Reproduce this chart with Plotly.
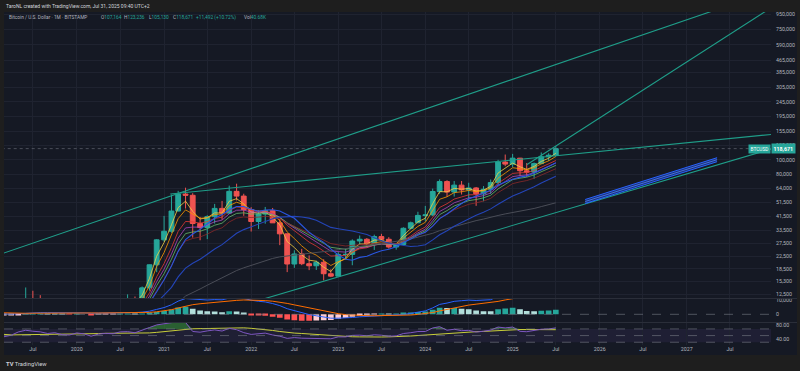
import numpy as np
import pandas as pd
import plotly.graph_objects as go
from plotly.subplots import make_subplots

# ---------------- data ----------------
# monthly closes before the visible window (used for the indicators only)
hist_months = pd.date_range('2015-01-01', '2018-12-01', freq='MS')
hist_close = [217, 254, 244, 236, 230, 263, 284, 230, 236, 314, 377, 430,
              369, 437, 416, 448, 531, 673, 624, 575, 609, 698, 742, 964,
              970, 1190, 1080, 1348, 2300, 2480, 2875, 4703, 4339, 6468, 10233, 13860,
              10265, 10326, 6926, 9246, 7494, 6391, 7729, 7037, 6625, 6371, 4041, 3742]

months = pd.date_range('2019-01-01', '2025-07-01', freq='MS')
opens = [3693, 3437, 3823, 4103, 5320, 8556, 10817, 10085, 9600, 8300, 9150, 7545,
         7195, 9350, 8545, 6410, 8630, 9455, 9140, 11350, 11660, 10780, 13800, 19710,
         28990, 33100, 45240, 58800, 57700, 37300, 35040, 41460, 47130, 43820, 61300, 57000,
         46200, 38480, 43180, 45530, 37700, 31800, 19950, 23300, 20050, 19420, 20490, 17170,
         16540, 23130, 23150, 28470, 29250, 27220, 30470, 29230, 25940, 26970, 34650, 37720,
         42280, 42580, 61170, 71330, 60670, 67500, 62700, 64630, 58990, 63330, 70220, 96420,
         93400, 102400, 84340, 82550, 94200, 104600, 107164]
highs = [4069, 4200, 4140, 5630, 9096, 13880, 13200, 12330, 10950, 10370, 9510, 7750,
         9580, 10500, 9190, 9460, 10080, 10390, 11440, 12480, 12070, 14100, 19500, 29300,
         41950, 58350, 61790, 64900, 59600, 41300, 42400, 50500, 52900, 67000, 69000, 59100,
         47990, 45800, 48200, 47440, 40000, 31980, 24670, 25200, 22800, 21000, 21470, 18390,
         23960, 25250, 29200, 31000, 29820, 31400, 31800, 30200, 27480, 35200, 38420, 44730,
         48970, 63990, 73790, 72800, 71980, 71960, 70000, 65600, 66500, 73620, 99800, 108300,
         109400, 102800, 95000, 95750, 111900, 110500, 123236]
lows = [3350, 3372, 3680, 4078, 5328, 7450, 9070, 9330, 7710, 7300, 6525, 6430,
        6860, 8450, 3850, 6150, 8110, 8900, 8980, 10530, 9880, 10370, 13210, 17580,
        28130, 32300, 45000, 47000, 30000, 28800, 29300, 37300, 39600, 43300, 53250, 42000,
        32950, 34300, 37200, 37600, 26700, 17600, 18800, 19600, 18150, 18200, 15480, 16300,
        16500, 21400, 19570, 26940, 25800, 24800, 28860, 25300, 24900, 26560, 34100, 37600,
        38500, 41880, 59000, 56500, 56550, 58400, 53500, 49000, 52600, 58900, 66800, 90500,
        89200, 78200, 76600, 74400, 93300, 98200, 105130]
closes = [3437, 3823, 4103, 5320, 8556, 10817, 10085, 9600, 8300, 9150, 7545, 7195,
          9350, 8545, 6410, 8630, 9455, 9140, 11350, 11660, 10780, 13800, 19710, 28990,
          33100, 45240, 58800, 57700, 37300, 35040, 41460, 47130, 43820, 61300, 57000, 46200,
          38480, 43180, 45530, 37700, 31800, 19950, 23300, 20050, 19420, 20490, 17170, 16540,
          23130, 23150, 28470, 29250, 27220, 30470, 29230, 25940, 26970, 34650, 37720, 42280,
          42580, 61170, 71330, 60670, 67500, 62700, 64630, 58990, 63330, 70220, 96420, 93400,
          102400, 84340, 82550, 94200, 104600, 107179, 118671]
last_volume_text = '40.68K'

# drawn trend lines (anchor date, anchor price)
upper_line_dates = ['2019-01-01', '2027-06-01']
upper_line_prices = [21930, 1051000]
steep_line_dates = ['2025-03-01', '2027-12-15']
steep_line_prices = [92600, 1033000]
resist_line_dates = ['2021-01-27', '2028-01-01']
resist_line_prices = [58900, 148300]
support_line_dates = ['2022-01-01', '2028-01-01']
support_line_prices = [10980, 119300]
channel_dates = ['2025-11-01', '2027-05-08']
channel_top = [54060, 103140]
channel_mid = [52420, 100000]
channel_bot = [50820, 96960]

# axis ticks
x_tickvals = ['2019-07-01', '2020-01-01', '2020-07-01', '2021-01-01', '2021-07-01', '2022-01-01',
              '2022-07-01', '2023-01-01', '2023-07-01', '2024-01-01', '2024-07-01', '2025-01-01',
              '2025-07-01', '2026-01-01', '2026-07-01', '2027-01-01', '2027-07-01']
x_ticktext = ['Jul', '2020', 'Jul', '2021', 'Jul', '2022', 'Jul', '2023', 'Jul', '2024', 'Jul',
              '2025', 'Jul', '2026', 'Jul', '2027', 'Jul']
price_ticks = [950000, 750000, 590000, 465000, 385000, 305000, 245000, 195000, 155000, 125000,
               100000, 80000, 64000, 51500, 41500, 33500, 27500, 22500, 18500, 15300, 12500]
macd_ticks = [0, 10000]
rsi_ticks = [40, 80]

# ---------------- indicators ----------------
all_idx = hist_months.append(months)
s = pd.Series(hist_close + closes, index=all_idx, dtype=float)

def ema(n):
    return s.ewm(span=n, adjust=False).mean()

macd = ema(12) - ema(26)
signal = macd.ewm(span=9, adjust=False).mean()
hist = macd - signal
delta = s.diff()
gain = delta.clip(lower=0).fillna(0)
loss = (-delta.clip(upper=0)).fillna(0)
rsi = 100 - 100 / (1 + gain.ewm(alpha=1 / 14, adjust=False).mean() / loss.ewm(alpha=1 / 14, adjust=False).mean())
rsi_ma = rsi.rolling(14).mean()

vis = s.index >= '2018-06-01'

# ---------------- layout geometry ----------------
W, H = 800, 371
L, R, T, B = 4, 29, 12, 26
pw, ph = W - L - R, H - T - B

def px(xp):
    return (xp - L) / pw

def py(yp):
    return (H - B - yp) / ph

price_dom = [py(298.5), 1.0]
macd_dom = [py(322.5), py(298.5)]
rsi_dom = [0.0, py(322.5)]

BG = '#151924'
GRID = '#1f2330'
TXT = '#b2b5be'
GREEN = '#26a69a'
RED = '#ef5350'
TEAL_LINE = '#1f9e89'
FONT = 'Roboto'
FS = 5.3
LFS = 4.8

fig = make_subplots(rows=3, cols=1, shared_xaxes=True, vertical_spacing=0)

# ribbon of moving averages
ribbon = [(3, '#f5d142'), (5, '#ff9800'), (8, '#e53935'), (10, '#ab47bc'), (12, '#66bb6a'), (15, '#8d2a2a')]
for n, c in ribbon:
    e = ema(n)
    fig.add_trace(go.Scatter(x=e.index[vis], y=e[vis], mode='lines', line=dict(color=c, width=0.8),
                             hoverinfo='skip'), row=1, col=1)
sma46 = s.rolling(46).mean()
sma20 = s.rolling(20).mean()
sma10 = s.rolling(10).mean()
fig.add_trace(go.Scatter(x=sma46.index[vis], y=sma46[vis], mode='lines', line=dict(color='#4a4d57', width=1)), row=1, col=1)
fig.add_trace(go.Scatter(x=sma20.index[vis], y=sma20[vis], mode='lines', line=dict(color='#2445b8', width=1.1)), row=1, col=1)
fig.add_trace(go.Scatter(x=sma10.index[vis], y=sma10[vis], mode='lines', line=dict(color='#2a56e0', width=1.1)), row=1, col=1)

# candles
fig.add_trace(go.Candlestick(x=months, open=opens, high=highs, low=lows, close=closes,
                             increasing=dict(line=dict(color=GREEN, width=1), fillcolor=GREEN),
                             decreasing=dict(line=dict(color=RED, width=1), fillcolor=RED),
                             whiskerwidth=0, hoverinfo='skip'), row=1, col=1)

# last price line
fig.add_trace(go.Scatter(x=['2019-01-01', '2028-06-01'], y=[closes[-1], closes[-1]], mode='lines',
                         line=dict(color='rgba(120,123,134,0.55)', width=1, dash='dot')), row=1, col=1)

# trend lines
for d, p in [(upper_line_dates, upper_line_prices), (steep_line_dates, steep_line_prices),
             (resist_line_dates, resist_line_prices), (support_line_dates, support_line_prices)]:
    fig.add_trace(go.Scatter(x=d, y=p, mode='lines', line=dict(color=TEAL_LINE, width=1.1)), row=1, col=1)

# blue channel
fig.add_trace(go.Scatter(x=channel_dates, y=channel_top, mode='lines', line=dict(color='#2962ff', width=1)), row=1, col=1)
fig.add_trace(go.Scatter(x=channel_dates, y=channel_bot, mode='lines', line=dict(color='#2962ff', width=1),
                         fill='tonexty', fillcolor='rgba(41,98,255,0.35)'), row=1, col=1)
fig.add_trace(go.Scatter(x=channel_dates, y=channel_mid, mode='lines', line=dict(color='#4f7dff', width=0.8)), row=1, col=1)

# MACD
hv = hist.values
hcols = []
for i in range(len(hv)):
    prev = hv[i - 1] if i > 0 else hv[i]
    if hv[i] >= 0:
        hcols.append('#26a69a' if hv[i] > prev else '#b2dfdb')
    else:
        hcols.append('#ffcdd2' if hv[i] > prev else '#ff5252')
fig.add_trace(go.Bar(x=list(hist.index[vis]), y=list(hist[vis].values),
                     marker=dict(color=[c for c, v in zip(hcols, vis) if v], line=dict(width=0))), row=2, col=1)
fig.add_trace(go.Scatter(x=macd.index[vis], y=macd[vis], mode='lines', line=dict(color='#2962ff', width=1)), row=2, col=1)
fig.add_trace(go.Scatter(x=signal.index[vis], y=signal[vis], mode='lines', line=dict(color='#ff6d00', width=1)), row=2, col=1)

# RSI
rx = rsi.index[vis]
fig.add_trace(go.Scatter(x=rx, y=np.full(len(rx), 70.0), mode='lines', line=dict(width=0)), row=3, col=1)
fig.add_trace(go.Scatter(x=rx, y=np.maximum(rsi[vis].values, 70.0), mode='lines', line=dict(width=0),
                         fill='tonexty', fillcolor='rgba(56,142,60,0.6)'), row=3, col=1)
fig.add_trace(go.Scatter(x=rx, y=rsi_ma[vis], mode='lines', line=dict(color='#c9cf3a', width=1)), row=3, col=1)
fig.add_trace(go.Scatter(x=rx, y=rsi[vis], mode='lines', line=dict(color='#7e57c2', width=1)), row=3, col=1)

# ---------------- axes ----------------
xr = ['2019-03-02', '2027-12-20']
for i in (1, 2, 3):
    fig.update_xaxes(row=i, col=1, type='date', range=xr, showgrid=True, gridcolor=GRID, gridwidth=1,
                     tickvals=x_tickvals, ticktext=x_ticktext, zeroline=False, showline=False,
                     rangeslider=dict(visible=False), ticks='',
                     showticklabels=(i == 3), tickfont=dict(family=FONT, size=FS, color=TXT))

fig.update_yaxes(row=1, col=1, type='log', range=[4.06846, 5.99128], side='right', tickvals=price_ticks,
                 tickformat=',', showgrid=True, gridcolor=GRID, zeroline=False, ticks='',
                 ticklabelstandoff=4, tickfont=dict(family=FONT, size=FS, color=TXT), domain=price_dom)
fig.update_yaxes(row=2, col=1, range=[-5600, 10800], side='right', tickvals=macd_ticks, tickformat=',',
                 showgrid=False, zeroline=False, ticks='', ticklabelstandoff=4,
                 tickfont=dict(family=FONT, size=FS, color=TXT), domain=macd_dom)
fig.update_yaxes(row=3, col=1, range=[21.7, 89.4], side='right', tickvals=rsi_ticks, tickformat='.2f',
                 showgrid=False, zeroline=False, ticks='', ticklabelstandoff=4,
                 tickfont=dict(family=FONT, size=FS, color=TXT), domain=rsi_dom)

shapes = [
    dict(type='rect', xref='paper', yref='paper', x0=px(4), x1=px(797), y0=py(355), y1=py(12),
         fillcolor=BG, line=dict(width=0), layer='below'),
    dict(type='line', xref='paper', yref='paper', x0=px(4), x1=px(797), y0=py(298.5), y1=py(298.5),
         line=dict(color='#2a2e39', width=1)),
    dict(type='line', xref='paper', yref='paper', x0=px(4), x1=px(797), y0=py(322.5), y1=py(322.5),
         line=dict(color='#2a2e39', width=1)),
    dict(type='rect', xref='x3 domain', yref='y3', x0=0, x1=1, y0=30, y1=70,
         fillcolor='rgba(126,87,194,0.1)', line=dict(width=0), layer='below'),
]
for v in (70, 50, 30):
    shapes.append(dict(type='line', xref='x3 domain', yref='y3', x0=0, x1=1, y0=v, y1=v,
                       line=dict(color='rgba(120,123,134,0.6)', width=1, dash='dash')))
shapes.append(dict(type='line', xref='x2 domain', yref='y2', x0=0, x1=1, y0=0, y1=0,
                   line=dict(color='rgba(120,123,134,0.6)', width=1, dash='dash')))

chg = closes[-1] - closes[-2]
pct = chg / closes[-2] * 100

def kv(k, v):
    return "<span style='color:#b2b5be'>{}</span><span style='color:#26a69a'>{}</span>".format(k, v)

legend_items = [
    (7, "<span style='color:#b2b5be'>Bitcoin / U.S. Dollar · 1M · BITSTAMP</span>"),
    (99.3, kv('O', '{:,}'.format(opens[-1]))),
    (122, kv('H', '{:,}'.format(highs[-1]))),
    (146.7, kv('L', '{:,}'.format(lows[-1]))),
    (171, kv('C', '{:,}'.format(closes[-1]))),
    (194, "<span style='color:#26a69a'>+{:,} (+{:.2f}%)</span>".format(chg, pct)),
    (242, kv('Vol', last_volume_text)),
]

annotations = [
    dict(xref='paper', yref='paper', x=px(4), y=py(5.5), xanchor='left', yanchor='middle', showarrow=False,
         text='TaroNL created with TradingView.com, Jul 31, 2025 09:40 UTC+2',
         font=dict(family=FONT, size=5.0, color='#d1d4dc')),
    dict(xref='paper', yref='y', x=1.0, y=np.log10(closes[-1]), xanchor='left', yanchor='middle', showarrow=False,
         text='<b>{:,}</b>'.format(closes[-1]), bgcolor=GREEN, borderpad=1.5,
         font=dict(family=FONT, size=FS, color='#ffffff')),
    dict(xref='paper', yref='y', x=px(770.5), y=np.log10(closes[-1]), xanchor='right', yanchor='middle',
         showarrow=False, text='BTCUSD', bgcolor=GREEN, borderpad=1.5,
         font=dict(family=FONT, size=4.8, color='#ffffff')),
    dict(xref='paper', yref='paper', x=px(4), y=py(364), xanchor='left', yanchor='middle', showarrow=False,
         text='<b>TV</b> TradingView', font=dict(family=FONT, size=5.8, color='#d1d4dc')),
]
for xp, t in legend_items:
    annotations.append(dict(xref='paper', yref='paper', x=px(xp), y=py(17.5), xanchor='left', yanchor='middle',
                            showarrow=False, text=t, font=dict(family=FONT, size=LFS, color=TXT)))

fig.update_layout(width=W, height=H, margin=dict(l=L, r=R, t=T, b=B), paper_bgcolor='#1e1e1e',
                  plot_bgcolor=BG, showlegend=False, bargap=0.15, boxgap=0.2, boxgroupgap=0.1,
                  shapes=shapes, annotations=annotations,
                  font=dict(family=FONT, color=TXT), hovermode=False)

fig.write_html('out.html', config={'displayModeBar': False},
               post_script="document.body.style.margin='0';document.body.style.overflow='hidden';")
